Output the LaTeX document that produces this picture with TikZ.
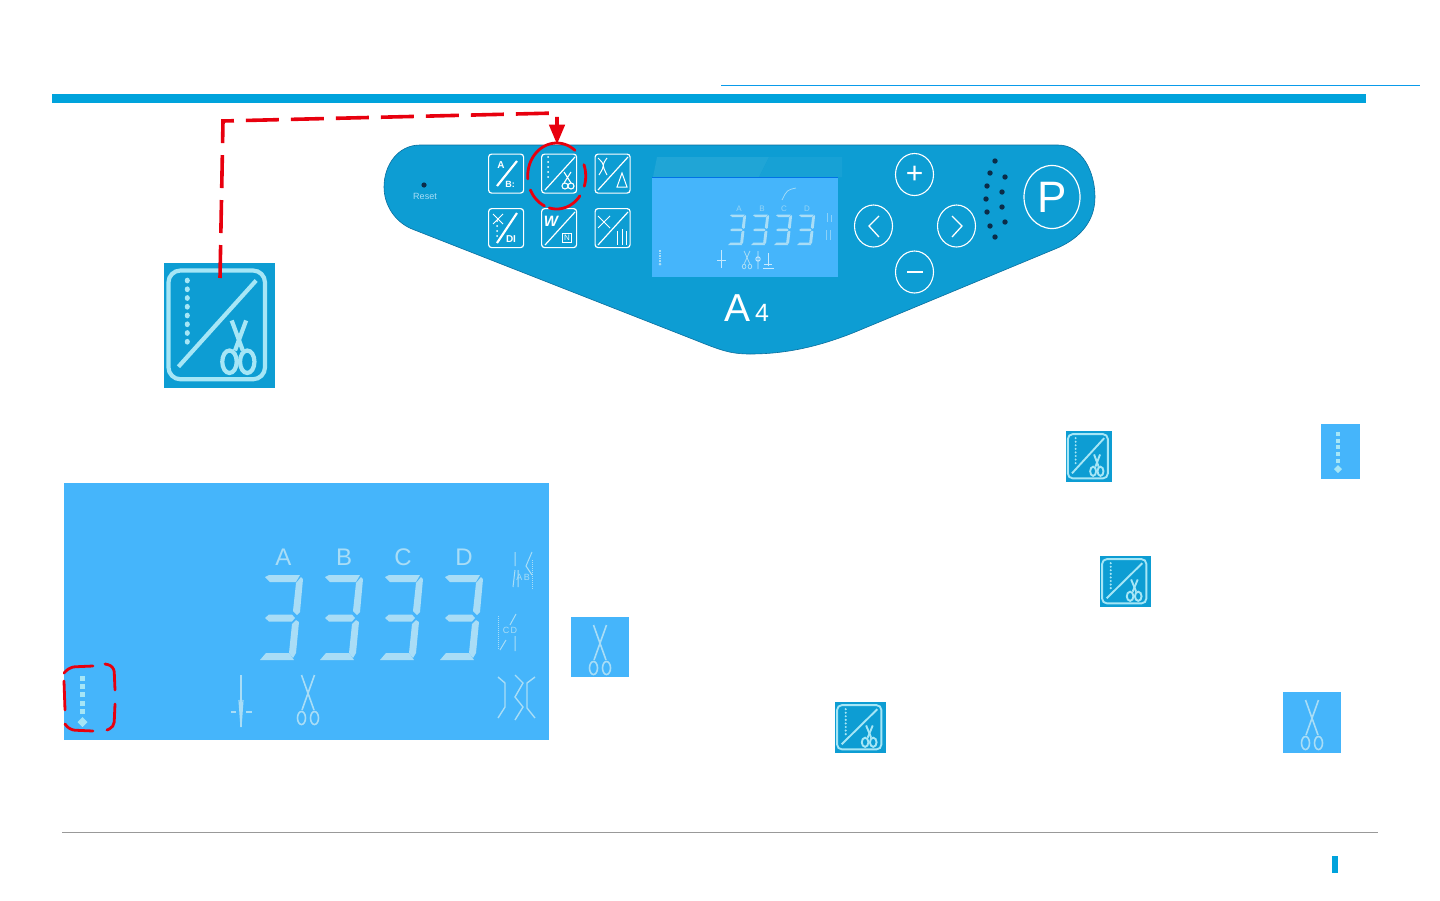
\documentclass[tikz,border=0pt]{standalone}
\usepackage{fontspec}
\setmainfont{Liberation Sans}
\usetikzlibrary{arrows}
\usetikzlibrary{shapes}

\definecolor{barblue}{HTML}{00A3DC}
\definecolor{rulelink}{HTML}{0A9BEA}
\definecolor{panelblue}{HTML}{0D9DD3}
\definecolor{paneledge}{HTML}{0A6F9E}
\definecolor{lcdblue}{HTML}{45B5FB}
\definecolor{segblue}{HTML}{A9DDF6}
\definecolor{iconline}{HTML}{A6E6F6}
\definecolor{dotdark}{HTML}{0B2C48}
\definecolor{linkred}{HTML}{E8000E}

\tikzset{
	iconbg/.style = {shape = rectangle, draw = none, fill = panelblue, inner sep = 0pt, outer sep = 0pt, anchor = north west},
	lcdbg/.style = {shape = rectangle, draw = none, fill = lcdblue, inner sep = 0pt, outer sep = 0pt, anchor = north west},
	panelbtn/.style = {shape = rectangle, rounded corners = 3pt, draw = white, line width = 1.2pt, minimum width = 35pt, minimum height = 39pt, inner sep = 0pt, anchor = north west},
	roundbtn/.style = {shape = ellipse, draw = white, line width = 1.1pt, minimum width = 38pt, minimum height = 42pt, inner sep = 0pt, text = white},
	pics/lcdthree/.style = {code = {
		\fill (5,2) -- (9,0) -- (40,0) -- (36,7) -- (10,7) -- cycle;
		\fill (41,2) -- (43,4) -- (40,37) -- (37,40) -- (33,36) -- (36,8) -- cycle;
		\fill (5,43) -- (9,39.5) -- (32,39.5) -- (35,43) -- (32,46.5) -- (9,46.5) -- cycle;
		\fill (36,45) -- (39,47) -- (36,78) -- (33,83) -- (29,78) -- (32,49) -- cycle;
		\fill (0,85) -- (6,78) -- (29,78) -- (34,85) -- cycle;
	}},
	pics/lcdcut/.style = {code = {
		\draw (-6.5,0) -- (6,35);
		\draw (6.5,0) -- (-6,35);
		\draw (-6.5,43) circle [x radius = 4, y radius = 6.5];
		\draw (6.5,43) circle [x radius = 4, y radius = 6.5];
	}},
	pics/lcddots/.style = {code = {
		\foreach \k in {0,...,4}
			\fill (-2.5,{\k*8.4-2.5}) rectangle (2.5,{\k*8.4+2.5});
		\fill (-5,44) -- (0,39) -- (5,44) -- (0,49) -- cycle;
	}}
}

% icon with frame, diagonal, stitch dots and scissors
\newcommand{\CutIcon}[7]{
	\node (#1) [iconbg, minimum width = #4pt, minimum height = #5pt] at (#2,#3) {};
	\begin{scope}[shift = {(#2,#3)}, xscale = #4/100, yscale = #5/100, draw = iconline, fill = iconline, line width = #6pt]
		\draw[rounded corners = #7pt] (4,6) rectangle (91,93);
		\draw (13,83) -- (83,14);
		\foreach \k in {0,...,7}
			\fill (21,{14+\k*7}) circle [x radius = 2.3, y radius = 2.3];
		\draw (61,46) -- (71,70);
		\draw (74,46) -- (64,70);
		\draw (59,79) circle [x radius = 6.5, y radius = 9];
		\draw (75,79) circle [x radius = 6.5, y radius = 9];
	\end{scope}
}

\begin{document}
\begin{tikzpicture}[x = 1pt, y = -1pt]
	\useasboundingbox (0,0) rectangle (1440,900);
	\fill[white] (0,0) rectangle (1440,900);

	% header and footer rules
	\fill[barblue] (52,94) rectangle (1366,103);
	\draw[rulelink, line width = 1.5pt] (721,85.5) -- (1420,85.5);
	\draw[black!40, line width = 1.2pt] (62,832.5) -- (1378,832.5);
	\fill[barblue] (1332,856) rectangle (1338,873);

	% panel outline
	\draw[fill = panelblue, draw = paneledge, line width = .6pt] (420,145) -- (1058,145)
		.. controls (1082,145) and (1095,172) .. (1095,197)
		.. controls (1095,225) and (1075,241) .. (1055,249)
		-- (860,330)
		.. controls (815,349) and (780,354) .. (750,354)
		.. controls (730,354) and (720,350) .. (695,340)
		-- (412,229)
		.. controls (395,222) and (384,205) .. (384,187)
		.. controls (384,165) and (398,145) .. (420,145) -- cycle;
	\fill[dotdark] (424,185) circle [radius = 2.6];
	\node (resetlabel) at (425,196.5) [text = segblue, font = \fontsize{9}{9}\selectfont] {Reset};

	% panel buttons
	\node (btnab) [panelbtn] at (488,153.5) {};
	\node (btncut) [panelbtn] at (541,153.5) {};
	\node (btnsew) [panelbtn] at (594.5,153.5) {};
	\node (btncd) [panelbtn] at (488,208) {};
	\node (btnw) [panelbtn] at (541,208) {};
	\node (btnset) [panelbtn] at (594.5,208) {};
	\draw[white, line width = 2.2pt] (497,186) -- (517,161);
	\draw[white, line width = 1.2pt] (545,190) -- (575,157);
	\draw[white, line width = 1.2pt] (598,190) -- (628,157);
	\draw[white, line width = 2.2pt] (497,243) -- (517,213);
	\draw[white, line width = 1.2pt] (545,245) -- (575,212);
	\draw[white, line width = 1.2pt] (598,245) -- (628,212);
	\node (btnaa) at (501,165) [text = white, font = \bfseries\fontsize{10}{10}\selectfont] {A};
	\node (btnbb) at (510,184) [text = white, font = \bfseries\fontsize{9}{9}\selectfont] {B:};
	\node (btndd) at (511,239) [text = white, font = \bfseries\fontsize{10}{10}\selectfont] {DI};
	\node (btnww) at (551,221) [text = white, font = \bfseries\itshape\fontsize{15}{15}\selectfont] {W};
	\node (btnnn) at (567,238) [draw = white, line width = .7pt, inner sep = 1.5pt, text = white, font = \fontsize{8}{8}\selectfont] {N};
	\foreach \yy in {157,162,167,172,177}
		\fill[white] (548,\yy) circle [radius = 1];
	\foreach \yy in {221,226,231,236}
		\fill[white] (497,\yy) circle [radius = 1];
	\draw[white, line width = 1.1pt] (564,172) -- (571,183) (571,172) -- (564,183);
	\draw[white, line width = 1.1pt] (565,186) circle [radius = 3] (571,186) circle [radius = 3];
	\draw[white, line width = 1pt] (598,158) .. controls (605,165) .. (599,175) (607,158) .. controls (602,165) .. (607,175);
	\draw[white, line width = 1pt] (617,187) -- (622,173) -- (627,187) -- cycle;
	\draw[white, line width = 1pt] (598,216) -- (610,228) (598,228) -- (610,216);
	\draw[white, line width = 1pt] (617,231) -- (617,245) (622,229) -- (622,245) (626,231) -- (626,245);
	\draw[white, line width = 1pt] (493,214) -- (503,224) (503,214) -- (493,224);

	% small lcd
	\fill[white!8!panelblue] (657,157) -- (769,157) -- (759,177) -- (653,177) -- cycle;
	\fill[white!4!panelblue] (769,157) -- (842,157) -- (842,177) -- (759,177) -- cycle;
	\node (smalllcd) [lcdbg, minimum width = 186pt, minimum height = 100pt] at (652,177) {};
	\draw[barblue!70!blue, line width = .8pt] (652,177.5) -- (838,177.5);
	\foreach \n/\xx in {A/739,B/762,C/784,D/807}
		\node (small\n) at (\xx,208.5) [text = segblue!80!lcdblue, font = \fontsize{8}{8}\selectfont] {\n};
	\foreach \xx in {728,751,774,797}
		\pic[xscale = .42, yscale = .36, fill = segblue] at (\xx,214.5) {lcdthree};
	\draw[segblue, line width = .7pt] (782,200) .. controls (787,190) .. (796,188);
	\draw[white!70!lcdblue, line width = 1pt] (721.5,250) -- (721.5,268) (717,260) -- (726,260);
	\pic[xscale = .45, yscale = .36, draw = segblue, line width = .8pt] at (747,251) {lcdcut};
	\draw[white!70!lcdblue, line width = .9pt] (758,251) -- (758,269) (758,259) circle [radius = 2.2];
	\draw[white!70!lcdblue, line width = .9pt] (763,268) -- (774,268) (768,253) -- (768,266) (764,264) -- (772,264);
	\pic[scale = .3, fill = segblue] at (660,251) {lcddots};
	\draw[segblue!70!lcdblue, line width = .8pt] (827,213) -- (827,222) (831,215) -- (831,222) (826,230) -- (826,240) (830,230) -- (830,240);

	% round buttons
	\node (btnplus) [roundbtn] at (914.5,174.5) {\fontsize{30}{30}\selectfont +};
	\node (btnleft) [roundbtn] at (873.5,226) {};
	\node (btnright) [roundbtn] at (956.5,226) {};
	\node (btnminus) [roundbtn] at (914.5,272) {};
	\draw[white, line width = 1.3pt] (879,216) -- (869,226) -- (879,237);
	\draw[white, line width = 1.3pt] (952,216) -- (962,226) -- (952,237);
	\draw[white, line width = 1.3pt] (907,272) -- (923,272);
	\node (btnp) [shape = ellipse, draw = white, line width = 1.2pt, minimum width = 56pt, minimum height = 63pt, inner sep = 0pt, text = white, font = \fontsize{44}{44}\selectfont] at (1052,197) {P};
	\foreach \xx/\yy in {995/161,990/173,1005/177,987/186,1002/192,986/199,1002/207,987/212,1005/222,990/226,995/237}
		\fill[dotdark] (\xx,\yy) circle [radius = 2.7];
	\node (modelname) at (747,308) [text = white, font = \fontsize{39}{39}\selectfont] {A\fontsize{25}{25}\selectfont\,4};

	% large icon and the red link to its button
	\CutIcon{bigicon}{164}{263}{111}{125}{4.2}{12}
	\coordinate (linkfrom) at (220,278);
	\coordinate (linkbend) at (223,121);
	\coordinate (linkover) at (557,113);
	\coordinate (linkdown) at (557,133);
	\coordinate (linkto) at (557,144);
	\draw[linkred, line width = 3.6pt, dash pattern = on 33pt off 12pt] (linkfrom) -- (linkbend) -- (linkover) -- (linkdown);
	\draw[linkred, line width = 3.6pt, -triangle 45] (linkdown) -- (linkto);
	% broken ring round the button
	\foreach \from/\upto in {175/309, -20/18, 37/105, 115/155}
		\draw[linkred, line width = 2.8pt, line cap = round] plot[domain = \from:\upto, samples = 30] ({556.7+29*cos(\x)},{176+33*sin(\x)});

	% large lcd
	\node (biglcd) [lcdbg, minimum width = 485pt, minimum height = 257pt] at (64,483) {};
	\foreach \n/\xx in {A/283.5,B/344,C/403,D/464}
		\node (big\n) at (\xx,557) [text = segblue, font = \fontsize{24}{24}\selectfont] {\n};
	\foreach \xx in {260,320,380,440}
		\pic[fill = segblue] at (\xx,575) {lcdthree};
	\pic[fill = iconline] at (82.5,678) {lcddots};
	\draw[segblue, line width = 2pt] (241,675) -- (241,727);
	\draw[segblue, line width = 2.2pt] (231,712) -- (236,712) (246,712) -- (252,712);
	\draw[segblue, line width = 1.2pt] (239,700) -- (241,727) -- (243,700);
	\pic[draw = segblue, line width = 1.6pt] at (308,675) {lcdcut};
	\draw[segblue, line width = 1.4pt] (498,677) -- (505,683) -- (505,707) -- (498,718) (515,675) -- (523,683) -- (515,697) -- (523,707) -- (515,720) (535,677) -- (527,683) -- (527,708) -- (535,718);
	\foreach \xx/\yy/\n in {523/577/{A\,B}, 510/630/{C\,D}}
		\node (tag\xx) at (\xx,\yy) [text = segblue, font = \fontsize{9}{9}\selectfont] {\n};
	\draw[segblue, line width = 1pt] (515,552) -- (515,566) (532,552) -- (526,566) -- (532,575) (515,570) -- (513,587) (518,570) -- (518,587);
	\draw[segblue, line width = 1pt, densely dotted] (532,560) -- (532,590) (498,616) -- (498,650);
	\draw[segblue, line width = 1pt] (516,614) -- (510,625) (515,636) -- (515,651) (506,640) -- (500,650);

	% red marker around the stitch dots
	\draw[linkred, line width = 2.8pt, line cap = round, rounded corners = 5pt] (93,666) -- (70,667) -- (64,673);
	\draw[linkred, line width = 2.8pt, line cap = round] (64,681) -- (65,710);
	\draw[linkred, line width = 2.8pt, line cap = round, rounded corners = 5pt] (65,724) -- (70,730) -- (93,731);
	\draw[linkred, line width = 2.8pt, line cap = round, rounded corners = 6pt] (105,664) -- (114,666) -- (115,690);
	\draw[linkred, line width = 2.8pt, line cap = round, rounded corners = 5pt] (115,704) -- (114,727) -- (107,730);

	% small tiles
	\CutIcon{iconone}{1066}{431}{46}{51}{1.9}{5}
	\CutIcon{icontwo}{1100}{556}{51}{51}{1.9}{5}
	\CutIcon{iconthree}{835}{702}{51}{51}{1.9}{5}
	\node (dottile) [lcdbg, minimum width = 39pt, minimum height = 55pt] at (1321,424) {};
	\pic[scale = .8, fill = iconline] at (1338,434) {lcddots};
	\node (cuttileone) [lcdbg, minimum width = 58pt, minimum height = 60pt] at (571,617) {};
	\pic[draw = segblue, line width = 1.6pt] at (600,625) {lcdcut};
	\node (cuttiletwo) [lcdbg, minimum width = 58pt, minimum height = 61pt] at (1283,692) {};
	\pic[draw = segblue, line width = 1.6pt] at (1312,700) {lcdcut};
\end{tikzpicture}
\end{document}
